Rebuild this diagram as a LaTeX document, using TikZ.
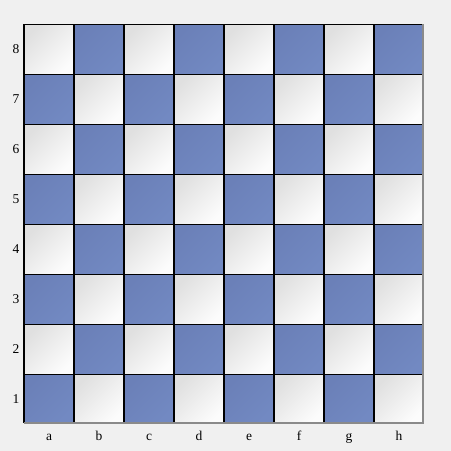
\documentclass[tikz,border=0pt]{standalone}
\usepackage{fontspec}
\setmainfont{Liberation Serif}
\definecolor{bg}{HTML}{F0F0F0}
\definecolor{darksq}{HTML}{6B80B8}
\definecolor{darksqb}{HTML}{7289C2}
\definecolor{lightsqa}{HTML}{E0E0E0}
\definecolor{lightsqb}{HTML}{FCFCFC}
\definecolor{edgegray}{HTML}{8A8A8A}
\begin{document}
\begin{tikzpicture}[x=1pt,y=1pt,
  lightsq/.style={top color=lightsqa,bottom color=lightsqb,shading angle=45},
  darkbox/.style={top color=darksq,bottom color=darksqb,shading angle=45},
  gridline/.style={draw=black,line width=1.2pt},
  lab/.style={font=\fontsize{13.5}{13.5}\selectfont,inner sep=0pt}]
\fill[bg] (0,0) rectangle (451,451);
\useasboundingbox (0,0) rectangle (451,451);
% squares (r = 0 is rank 8 at the top)
\foreach \c in {0,...,7}{
  \foreach \r in {0,...,7}{
    \pgfmathtruncatemacro{\sqparity}{mod(\c+\r,2)}
    \pgfmathsetmacro{\xa}{24+50*\c}
    \pgfmathsetmacro{\ya}{426.5-50*\r}
    \pgfmathsetmacro{\xb}{min(24+50*\c+50,423)}
    \pgfmathsetmacro{\yb}{max(426.5-50*\r-50,28)}
    \ifnum\sqparity=0
      \shade[lightsq] (\xa,\yb) rectangle (\xb,\ya);
    \else
      \shade[darkbox] (\xa,\yb) rectangle (\xb,\ya);
    \fi
  }
}
% grid lines
\foreach \k in {1,...,7}{
  \draw[gridline] ({24+50*\k},426.5) -- ({24+50*\k},28);
  \draw[gridline] (24,{426.5-50*\k}) -- (423,{426.5-50*\k});
}
\draw[gridline] (423,426.5) -- (24,426.5) -- (24,28);
\draw[edgegray,line width=1.2pt] (24,28) -- (423,28) -- (423,426.5);
% labels
\foreach \n [count=\i from 0] in {8,7,6,5,4,3,2,1}{
  \node[lab] (r\n) at (16,{401.5-50*\i}) {\n};
}
\foreach \f [count=\i from 0] in {a,b,c,d,e,f,g,h}{
  \node[lab,anchor=base] (f\f) at ({49+50*\i},11) {\f};
}
\end{tikzpicture}
\end{document}
